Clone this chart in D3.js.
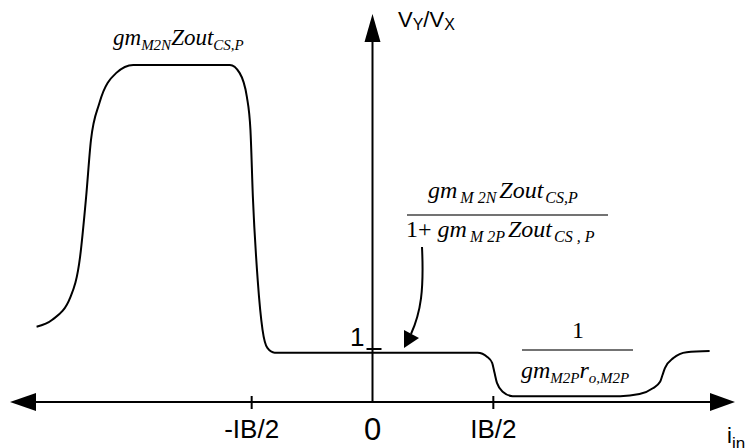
<!DOCTYPE html>
<html>
<head>
<meta charset="utf-8">
<script src="https://cdn.jsdelivr.net/npm/d3@7"></script>
<style>
  body { margin: 0; background: #fff; }
  .sans { font-family: "Liberation Sans", Arial, sans-serif; }
  .serif { font-family: "Liberation Serif", "Times New Roman", serif; font-style: italic; }
  .upright { font-style: normal; }
</style>
</head>
<body>
<svg id="chart"></svg>
<script>
// curve samples (x in units of IB/2, y in units of the "1" level)
const curveX = [-2.78, -2.65, -2.50, -2.42, -2.37, -2.33, -2.26, -2.12, -1.98, -1.18, -1.10, -1.04, -1.01, -0.99, -0.95, -0.91, -0.87, -0.81,
  0.87, 0.95, 0.99, 1.01, 1.03, 1.08, 1.16, 2.05, 2.21, 2.32, 2.38, 2.40, 2.42, 2.49, 2.60, 2.79];
const curveY = [1.42, 1.55, 1.98, 2.74, 3.87, 4.94, 5.64, 6.21, 6.36, 6.36, 6.21, 5.76, 5.13, 3.87, 2.30, 1.36, 1.02, 0.93,
  0.93, 0.85, 0.74, 0.55, 0.36, 0.19, 0.11, 0.11, 0.15, 0.26, 0.38, 0.51, 0.64, 0.83, 0.94, 0.96];

const xTickValues = [-1, 0, 1];
const xTickLabels = ["-IB/2", "0", "IB/2"];
const yTickValues = [1];
const yTickLabels = ["1"];

// 表示サイズ
const width = 751, height = 448;

const svg = d3.select("#chart")
  .attr("width", width)
  .attr("height", height);

const x = d3.scaleLinear().domain([-3, 3]).range([10, 735]);
const y = d3.scaleLinear().domain([0, 7]).range([402, 31]);

const black = "#000";

// 矢印
function arrowHead(tipX, tipY, dir, len, half) {
  let pts;
  if (dir === "left") pts = [[tipX, tipY], [tipX + len, tipY - half], [tipX + len, tipY + half]];
  if (dir === "right") pts = [[tipX, tipY], [tipX - len, tipY - half], [tipX - len, tipY + half]];
  if (dir === "up") pts = [[tipX, tipY], [tipX - half, tipY + len], [tipX + half, tipY + len]];
  svg.append("polygon")
    .attr("points", pts.map(p => p.join(",")).join(" "))
    .attr("fill", black);
}

// x axis
svg.append("line")
  .attr("x1", x(-3) + 10).attr("x2", x(3) - 10)
  .attr("y1", y(0)).attr("y2", y(0))
  .attr("stroke", black).attr("stroke-width", 2);
arrowHead(x(-3), y(0), "left", 26, 9);
arrowHead(x(3), y(0), "right", 25, 9);

// y axis
svg.append("line")
  .attr("x1", x(0)).attr("x2", x(0))
  .attr("y1", y(0)).attr("y2", 30)
  .attr("stroke", black).attr("stroke-width", 2);
arrowHead(x(0), 14, "up", 28, 8);

// x ticks
xTickValues.forEach((v, i) => {
  if (v !== 0) {
    svg.append("line")
      .attr("x1", x(v)).attr("x2", x(v))
      .attr("y1", y(0) - 6).attr("y2", y(0) + 7)
      .attr("stroke", black).attr("stroke-width", 2);
  }
  svg.append("text")
    .attr("class", "sans")
    .attr("x", x(v))
    .attr("y", v === 0 ? 440 : 438)
    .attr("text-anchor", "middle")
    .attr("font-size", v === 0 ? 31 : 26)
    .text(xTickLabels[i]);
});

// y tick
yTickValues.forEach((v, i) => {
  svg.append("line")
    .attr("x1", x(0) - 6).attr("x2", x(0) + 9)
    .attr("y1", y(v)).attr("y2", y(v))
    .attr("stroke", black).attr("stroke-width", 2);
  svg.append("text")
    .attr("class", "sans")
    .attr("x", x(0) - 8)
    .attr("y", y(v) - 3)
    .attr("text-anchor", "end")
    .attr("font-size", 26)
    .text(yTickLabels[i]);
});

// curve
const line = d3.line()
  .x(d => x(d[0]))
  .y(d => y(d[1]))
  .curve(d3.curveMonotoneX);

svg.append("path")
  .datum(curveX.map((v, i) => [v, curveY[i]]))
  .attr("d", line)
  .attr("fill", "none")
  .attr("stroke", black)
  .attr("stroke-width", 2);

// 添字付きテキスト
function richText(px, py, parts, size, subSize, cls, anchor) {
  const t = svg.append("text")
    .attr("class", cls)
    .attr("x", px).attr("y", py)
    .attr("font-size", size)
    .attr("text-anchor", anchor || "start");
  parts.forEach(p => {
    t.append("tspan")
      .attr("class", p.up ? "upright" : null)
      .attr("font-size", p.sub ? subSize : size)
      .attr("baseline-shift", p.sub ? (p.shift || -5) : 0)
      .attr("dx", p.dx || 0)
      .text(p.t);
  });
  return t;
}

// axis titles
richText(398, 27, [{t: "V"}, {t: "Y", sub: true, shift: -3}, {t: "/V"}, {t: "X", sub: true, shift: -3}], 22, 16, "sans");
richText(727, 443, [{t: "i"}, {t: "in", sub: true, shift: -6}], 22, 17, "sans");

// plateau label
richText(113, 45, [{t: "gm"}, {t: "M2N", sub: true, shift: -5}, {t: "Zout"}, {t: "CS,P", sub: true, shift: -5}], 23, 15, "serif");

// fraction near the "1" level
richText(428, 198, [{t: "gm"}, {t: "M 2N", sub: true, shift: -5, dx: 3}, {t: "Zout", dx: 3}, {t: "CS,P", sub: true, shift: -5, dx: 2}], 24, 16, "serif");
svg.append("line")
  .attr("x1", 407).attr("x2", 608)
  .attr("y1", 215).attr("y2", 215)
  .attr("stroke", "#444").attr("stroke-width", 1.5);
richText(406, 237, [{t: "1+ ", up: true}, {t: "gm"}, {t: "M 2P", sub: true, shift: -5, dx: 3}, {t: "Zout", dx: 3}, {t: "CS , P", sub: true, shift: -5, dx: 2}], 24, 16, "serif");

// annotation arrow
svg.append("path")
  .attr("d", "M422,247 C424,290 421,312 411,334")
  .attr("fill", "none").attr("stroke", black).attr("stroke-width", 2);
svg.append("polygon")
  .attr("points", "404,348 404,330 419,338")
  .attr("fill", black);

// fraction on the low level
svg.append("text")
  .attr("class", "serif upright")
  .attr("x", 578).attr("y", 338)
  .attr("text-anchor", "middle")
  .attr("font-size", 24)
  .text("1");
svg.append("line")
  .attr("x1", 522).attr("x2", 633)
  .attr("y1", 350).attr("y2", 350)
  .attr("stroke", "#444").attr("stroke-width", 1.5);
richText(521, 378, [{t: "gm"}, {t: "M2P", sub: true, shift: -5}, {t: "r"}, {t: "o,M2P", sub: true, shift: -5}], 24, 15, "serif");
</script>
</body>
</html>
